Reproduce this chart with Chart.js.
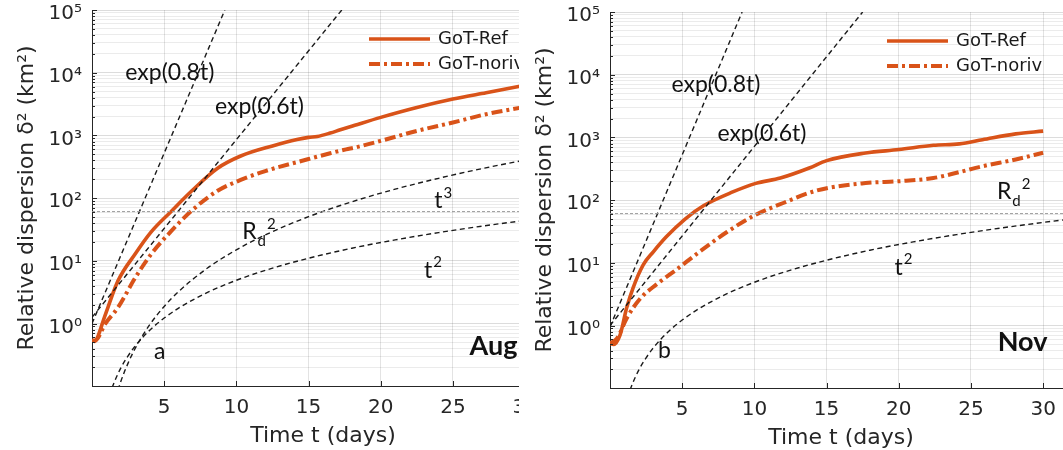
<!DOCTYPE html>
<html>
<head>
<meta charset="utf-8">
<script src="https://cdn.jsdelivr.net/npm/chart.js@4.4.1/dist/chart.umd.min.js"></script>
<style>
  body { margin: 0; background: #fff; width: 1063px; height: 450px; overflow: hidden; position: relative; }
  .panel { position: absolute; top: 0; height: 450px; overflow: hidden; }
  #boxAug { left: 0; width: 519px; }
  #boxNov { left: 519px; width: 544px; }
  canvas { position: absolute; }
</style>
</head>
<body>
<div class="panel" id="boxAug"><canvas id="chartAug" width="566" height="450" style="left:0;top:0"></canvas></div>
<div class="panel" id="boxNov"><canvas id="chartNov" width="566" height="450" style="left:-1px;top:2px"></canvas></div>
<script>
// axis ticks
var xTickValues = [5, 10, 15, 20, 25, 30];
var yTickValues = [1, 10, 100, 1000, 10000, 100000];
var yTickLabels = ['10⁰', '10¹', '10²', '10³', '10⁴', '10⁵'];

// Aug panel (a)
var augRefT   = [0, 0.2, 0.45, 0.8, 1.1, 1.8, 3.0, 4.1, 5.5, 6.9, 8.7, 10.3, 12.5, 14.2, 15.0, 15.6, 16.5, 17.2, 18.2, 20.0, 22.5, 25.0, 27.3, 30];
var augRefV   = [0.55, 0.52, 0.66, 1.15, 1.8, 4.8, 13, 29, 62, 130, 300, 470, 680, 860, 930, 960, 1090, 1230, 1450, 1940, 2790, 3800, 4800, 6300];
var augNorivT = [0, 0.3, 0.9, 1.8, 3.0, 4.1, 5.5, 6.9, 8.7, 10.3, 12.0, 15.0, 16.5, 17.6, 18.2, 20.0, 22.5, 25.0, 27.3, 30];
var augNorivV = [0.53, 0.55, 0.98, 1.8, 5.4, 12.8, 30, 63, 131, 195, 270, 420, 520, 600, 640, 820, 1180, 1610, 2180, 2850];
var augFastT = [0, 9.2],  augFastV = [1.0, 100000];   // exp(0.8t)
var augSlowT = [0, 17.3], augSlowV = [1.26, 100000];  // exp(0.6t)

// Nov panel (b)
var novRefT   = [0, 0.25, 0.7, 1.15, 1.6, 2.3, 3.0, 3.9, 5.2, 6.5, 8.5, 10.1, 11.8, 13.8, 15.0, 17.7, 20.0, 22.4, 24.2, 25.8, 28.1, 30];
var novRefV   = [0.52, 0.5, 0.71, 1.9, 4.0, 9.3, 15, 26, 50, 82, 135, 185, 225, 325, 427, 565, 640, 750, 790, 920, 1140, 1260];
var novNorivT = [0, 0.5, 1.15, 2.1, 3.2, 4.6, 6.2, 8.1, 10.0, 12.0, 14.3, 17.7, 20.0, 22.4, 24.2, 25.8, 28.1, 30];
var novNorivV = [0.52, 0.63, 1.3, 2.7, 4.5, 7.8, 15, 31, 57, 90, 142, 187, 200, 225, 280, 347, 445, 570];
var novFastT = [0, 9.15], novFastV = [0.95, 100000];
var novSlowT = [0, 17.5], novSlowV = [1.0, 100000];

// power-law guides, Rossby radius
var powT  = [1.2, 1.5, 2, 2.5, 3, 4, 5, 6, 8, 10, 12, 15, 18, 21, 24, 27, 30, 33];
var powT2 = [0.0706, 0.11, 0.196, 0.306, 0.441, 0.784, 1.225, 1.764, 3.14, 4.9, 7.06, 11.0, 15.9, 21.6, 28.2, 35.7, 44.1, 53.4];
var powT3 = [0.026, 0.05, 0.12, 0.234, 0.405, 0.96, 1.875, 3.24, 7.68, 15, 25.9, 50.6, 87.5, 139, 207, 295, 405, 539];
var rdT = [0, 32], rdV = [61, 61];

var ORANGE = '#D95319';
var INK = '#262626';
var yMin = 0.101, yMax = 100000;

Chart.defaults.font.family = "'DejaVu Sans', sans-serif";
Chart.defaults.color = INK;

function pts(ts, vs) {
    return ts.map(function (t, i) { return {x: t, y: vs[i]}; });
}
function decadeIndex(v) {
    for (var i = 0; i < yTickValues.length; i++) {
        if (Math.abs(Math.log10(v) - Math.log10(yTickValues[i])) < 1e-6) return i;
    }
    return -1;
}

var yGrid = [];
[0.1, 1, 10, 100, 1000, 10000].forEach(function (d) {
    for (var m = 1; m < 10; m++) {
        var v = m * d;
        if (v >= yMin && v <= yMax) yGrid.push(v);
    }
});
yGrid.push(100000);

function guide(label, ts, vs) {
    return {label: label, data: pts(ts, vs), borderColor: '#1a1a1a', borderWidth: 1.4,
            borderDash: [5, 3.5], pointRadius: 0, cubicInterpolationMode: 'monotone'};
}

var extras = {
    id: 'extras',
    afterDraw: function (chart) {
        var ctx = chart.ctx, a = chart.chartArea;
        var xs = chart.scales.x, ys = chart.scales.y;
        ctx.save();
        // inward tick marks
        ctx.strokeStyle = INK;
        ctx.lineWidth = 1;
        ys.ticks.forEach(function (tk) {
            var y = Math.round(ys.getPixelForValue(tk.value)) + 0.5;
            ctx.beginPath();
            ctx.moveTo(a.left, y);
            ctx.lineTo(a.left + (decadeIndex(tk.value) >= 0 ? 5 : 3), y);
            ctx.stroke();
        });
        xs.ticks.forEach(function (tk) {
            var x = Math.round(xs.getPixelForValue(tk.value)) + 0.5;
            ctx.beginPath();
            ctx.moveTo(x, a.bottom);
            ctx.lineTo(x, a.bottom - 5);
            ctx.stroke();
        });

        // text notes
        ctx.fillStyle = '#111';
        ctx.textBaseline = 'middle';
        chart.options.plugins.extras.notes.forEach(function (n) {
            var x = xs.getPixelForValue(n.t), y = ys.getPixelForValue(n.v);
            ctx.font = (n.bold ? 'bold 27px' : '23px') + ' Lato';
            ctx.textAlign = n.align || 'left';
            ctx.fillText(n.text, x, y);
            var cx = x + (n.align === 'right' ? 0 : ctx.measureText(n.text).width);
            ctx.textAlign = 'left';
            ctx.font = '15px Lato';
            if (n.sub) {
                ctx.fillText(n.sub, cx + 1, y + 9);
                cx += ctx.measureText(n.sub).width + 1;
            }
            if (n.sup) ctx.fillText(n.sup, cx + 1, y - 8);
        });

        // legend inside the axes, GoT-Ref on top
        var rows = chart.data.datasets.filter(function (d) { return d.legendRow !== undefined; });
        rows.sort(function (p, q) { return p.legendRow - q.legendRow; });
        rows.forEach(function (d, i) {
            var y = a.top + 29 + i * 25;
            ctx.strokeStyle = d.borderColor;
            ctx.lineWidth = d.borderWidth;
            ctx.setLineDash(d.borderDash || []);
            ctx.beginPath();
            ctx.moveTo(a.left + 277, y);
            ctx.lineTo(a.left + 338, y);
            ctx.stroke();
            ctx.setLineDash([]);
            ctx.fillStyle = '#1a1a1a';
            ctx.font = '18px "DejaVu Sans"';
            ctx.textAlign = 'left';
            ctx.fillText(d.label, a.left + 346, y);
        });
        ctx.restore();
    }
};

function makePanel(id, refT, refV, norivT, norivV, fastT, fastV, slowT, slowV, withT3, notes) {
    var sets = [
        {label: 'Rd2', data: pts(rdT, rdV), borderColor: '#9a9a9a', borderWidth: 1, borderDash: [3, 2], pointRadius: 0},
        guide('exp(0.8t)', fastT, fastV),
        guide('exp(0.6t)', slowT, slowV),
        guide('t2', powT, powT2)
    ];
    if (withT3) sets.push(guide('t3', powT, powT3));
    sets.push({label: 'GoT-noriv', legendRow: 1, data: pts(norivT, norivV), borderColor: ORANGE,
               borderWidth: 4, borderDash: [11, 4, 3, 4], pointRadius: 0, cubicInterpolationMode: 'monotone'});
    sets.push({label: 'GoT-Ref', legendRow: 0, data: pts(refT, refV), borderColor: ORANGE,
               borderWidth: 3.6, pointRadius: 0, cubicInterpolationMode: 'monotone'});

    return new Chart(id, {
        type: 'line',
        data: {datasets: sets},
        plugins: [extras],
        options: {
            responsive: false,
            animation: false,
            devicePixelRatio: 1,
            layout: {padding: {left: 0, top: 10, right: 12, bottom: 2}},
            plugins: {
                legend: {display: false},
                tooltip: {enabled: false},
                extras: {notes: notes}
            },
            scales: {
                x: {
                    type: 'linear', min: 0, max: 32, bounds: 'data',
                    afterBuildTicks: function (s) { s.ticks = xTickValues.map(function (v) { return {value: v}; }); },
                    afterFit: function (s) { s.height = 62; s.paddingLeft = 0; s.paddingRight = 0; },
                    ticks: {autoSkip: false, maxRotation: 0, padding: 10, font: {size: 20}, color: INK},
                    grid: {drawTicks: false, color: 'rgba(38,38,38,0.13)'},
                    border: {color: INK},
                    title: {display: true, text: 'Time t (days)', color: INK,
                            font: {size: 22, lineHeight: 1}, padding: {top: 0, bottom: 1}}
                },
                y: {
                    type: 'logarithmic', min: yMin, max: yMax, bounds: 'data',
                    afterBuildTicks: function (s) { s.ticks = yGrid.map(function (v) { return {value: v}; }); },
                    afterFit: function (s) { s.width = 92; s.paddingTop = 0; s.paddingBottom = 0; },
                    ticks: {
                        autoSkip: false, padding: 10, labelOffset: 4, font: {size: 20}, color: INK,
                        callback: function (v) { var i = decadeIndex(v); return i < 0 ? '' : yTickLabels[i]; }
                    },
                    grid: {
                        drawTicks: false,
                        color: function (c) {
                            return c.tick && decadeIndex(c.tick.value) >= 0 ? 'rgba(38,38,38,0.16)' : 'rgba(38,38,38,0.09)';
                        }
                    },
                    border: {color: INK},
                    title: {display: true, text: 'Relative dispersion δ² (km²)', color: INK,
                            font: {size: 22, lineHeight: 1}, padding: {top: 16, bottom: 0}}
                }
            }
        }
    });
}

makePanel('chartAug', augRefT, augRefV, augNorivT, augNorivV, augFastT, augFastV, augSlowT, augSlowV, true, [
    {text: 'exp(0.8t)', t: 2.31, v: 10200},
    {text: 'exp(0.6t)', t: 8.52, v: 2900},
    {text: 't', sup: '3', t: 23.7, v: 91},
    {text: 'R', sub: 'd', sup: '2', t: 10.4, v: 29},
    {text: 't', sup: '2', t: 23.0, v: 7.1},
    {text: 'a', t: 4.3, v: 0.36},
    {text: 'Aug', bold: true, align: 'right', t: 29.47, v: 0.43}
]);

makePanel('chartNov', novRefT, novRefV, novNorivT, novNorivV, novFastT, novFastV, novSlowT, novSlowV, false, [
    {text: 'exp(0.8t)', t: 4.26, v: 6900},
    {text: 'exp(0.6t)', t: 7.44, v: 1170},
    {text: 'R', sub: 'd', sup: '2', t: 26.8, v: 135},
    {text: 't', sup: '2', t: 19.7, v: 8.5},
    {text: 'b', t: 3.32, v: 0.40},
    {text: 'Nov', bold: true, align: 'right', t: 30.3, v: 0.54}
]);
</script>
</body>
</html>
